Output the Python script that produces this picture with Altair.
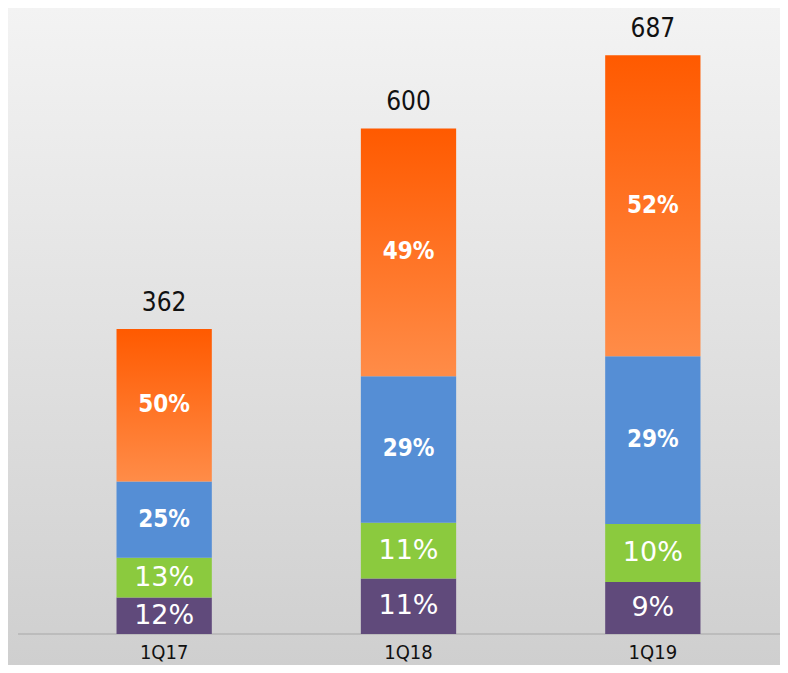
import altair as alt
import pandas as pd

quarters = ["1Q17", "1Q18", "1Q19"]
totals = [362, 600, 687]
segments = ["Purple", "Green", "Blue", "Orange"]  # bottom to top
pct_purple = [12, 11, 9]
pct_green = [13, 11, 10]
pct_blue = [25, 29, 29]
pct_orange = [50, 49, 52]
seg_colors = ["#604a7b", "#8bca3e", "#558ed5", "#ff7a30"]

pcts = {"Purple": pct_purple, "Green": pct_green, "Blue": pct_blue, "Orange": pct_orange}

rows = []
for i, q in enumerate(quarters):
    start = 0.0
    for s in segments:
        p = pcts[s][i]
        v = totals[i] * p / 100.0
        rows.append({"quarter": q, "segment": s, "pct": f"{p}%", "start": start,
                     "end": start + v, "mid": start + v / 2, "total": totals[i]})
        start += v
df = pd.DataFrame(rows)
tot_df = pd.DataFrame({"quarter": quarters, "total": totals, "zero": [0, 0, 0]})

NARROW = "'DejaVu Sans Condensed', 'Liberation Sans Narrow', 'Noto Sans', sans-serif"

W, H = 772, 657
xs = alt.Scale(domain=quarters, range=[34, 767], paddingInner=0.61, paddingOuter=0.305)
ys = alt.Scale(domain=[0, 743], range=[626, 0])
X = alt.X("quarter:N", scale=xs, axis=None)

bg = alt.Chart(pd.DataFrame({"a": [0]})).mark_rect(
    color=alt.Gradient(gradient="linear",
                       stops=[alt.GradientStop(color="#f3f3f3", offset=0),
                              alt.GradientStop(color="#cfcfcf", offset=1)],
                       x1=0, x2=0, y1=0, y2=1)
).encode(x=alt.value(0), x2=alt.value(W), y=alt.value(0), y2=alt.value(H))

base = alt.Chart(df)

bars = base.transform_filter(alt.datum.segment != "Orange").mark_bar().encode(
    x=X,
    y=alt.Y("start:Q", scale=ys, axis=None),
    y2="end:Q",
    color=alt.Color("segment:N", scale=alt.Scale(domain=segments, range=seg_colors), legend=None),
)

orange = base.transform_filter(alt.datum.segment == "Orange").mark_bar(
    color=alt.Gradient(gradient="linear",
                       stops=[alt.GradientStop(color="#ff5a00", offset=0),
                              alt.GradientStop(color="#ff8c48", offset=1)],
                       x1=0, x2=0, y1=0, y2=1)
).encode(x=X, y=alt.Y("start:Q", scale=ys, axis=None), y2="end:Q")

lab_narrow = base.transform_filter(
    (alt.datum.segment == "Orange") | (alt.datum.segment == "Blue")
).mark_text(font=NARROW, fontWeight="bold", fontSize=24,
            color="white", baseline="middle").encode(
    x=X, y=alt.Y("mid:Q", scale=ys, axis=None), text="pct:N")

lab_wide = base.transform_filter(
    (alt.datum.segment == "Purple") | (alt.datum.segment == "Green")
).mark_text(font="DejaVu Sans", fontSize=27, color="white", baseline="middle").encode(
    x=X, y=alt.Y("mid:Q", scale=ys, axis=None), text="pct:N")

tot = alt.Chart(tot_df).mark_text(font=NARROW, fontSize=26,
                                  color="#111111", baseline="middle", dy=-26).encode(
    x=X, y=alt.Y("total:Q", scale=ys, axis=None), text="total:Q")

cat = alt.Chart(tot_df).mark_text(font=NARROW, fontSize=20,
                                  color="#111111", baseline="bottom", dy=29).encode(
    x=X, y=alt.Y("zero:Q", scale=ys, axis=None), text="quarter:N")

axis_line = alt.Chart(tot_df).mark_rule(color="#bcbcbc", strokeWidth=2).encode(
    x=alt.value(10), x2=alt.value(W), y=alt.Y("zero:Q", scale=ys, axis=None))

chart = alt.layer(bg, axis_line, bars, orange, lab_narrow, lab_wide, tot, cat).properties(
    width=W, height=H, padding=0,
    autosize=alt.AutoSizeParams(type="none"),
    background="#e0e0e0",
).configure_view(stroke=None)

chart.save("out.html", embed_options={"renderer": "svg", "actions": False})
